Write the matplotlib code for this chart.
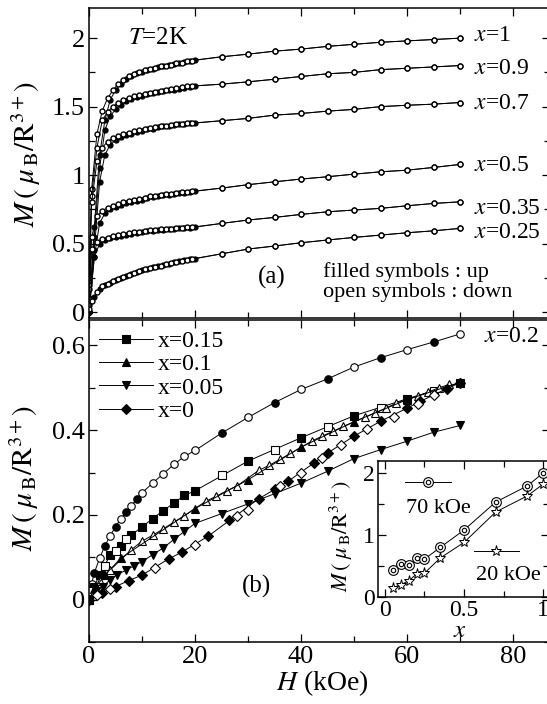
import numpy as np
import matplotlib
matplotlib.use('Agg')
import matplotlib.pyplot as plt

plt.rcParams['font.family'] = ['Liberation Serif', 'DejaVu Serif']
plt.rcParams['mathtext.fontset'] = 'stix'

# ---- panel (a): M(H) at T=2K, up sweep (filled) and down sweep (open)
H_up = [0, 1, 2, 3, 4, 5, 6, 7, 8, 9, 10, 11, 12, 13, 14, 15, 16, 17, 18, 19, 20,
        25, 30, 35, 40, 45, 50, 55, 60, 65, 70]
H_dn = [0, 0.5, 1.5, 2.5, 3.5, 4.5, 5.5, 6.5, 7.5, 8.5, 9.5, 10.5, 11.5, 12.5,
        13.5, 14.5, 15.5, 16.5, 17.5, 18.5, 19.5]

comps_a = ['1', '0.9', '0.7', '0.5', '0.35', '0.25']
M_up = {
    '1': [0, 0.62, 1.15, 1.40, 1.55, 1.62, 1.665, 1.70, 1.725, 1.745, 1.755, 1.768, 1.778,
          1.788, 1.797, 1.804, 1.811, 1.818, 1.825, 1.832, 1.84,
          1.864, 1.883, 1.905, 1.92, 1.94, 1.955, 1.97, 1.98, 1.99, 2.0],
    '0.9': [0, 0.55, 1.05, 1.33, 1.43, 1.48, 1.515, 1.54, 1.555, 1.568, 1.58, 1.59, 1.598,
            1.605, 1.612, 1.618, 1.624, 1.63, 1.637, 1.644, 1.652,
            1.664, 1.681, 1.70, 1.72, 1.74, 1.75, 1.77, 1.78, 1.79, 1.80],
    '0.7': [0, 0.45, 0.95, 1.15, 1.22, 1.255, 1.275, 1.29, 1.30, 1.315, 1.325, 1.335, 1.34,
            1.35, 1.355, 1.36, 1.365, 1.37, 1.374, 1.377, 1.38,
            1.397, 1.414, 1.438, 1.45, 1.467, 1.48, 1.50, 1.51, 1.518, 1.53],
    '0.5': [0, 0.40, 0.65, 0.72, 0.75, 0.77, 0.785, 0.795, 0.805, 0.812, 0.82, 0.83, 0.84,
            0.848, 0.853, 0.858, 0.862, 0.868, 0.872, 0.877, 0.882,
            0.905, 0.93, 0.951, 0.971, 0.988, 1.007, 1.024, 1.036, 1.056, 1.078],
    '0.35': [0, 0.40, 0.50, 0.525, 0.538, 0.548, 0.557, 0.564, 0.57, 0.578, 0.584, 0.589, 0.594,
             0.598, 0.601, 0.604, 0.607, 0.611, 0.614, 0.617, 0.62,
             0.647, 0.672, 0.691, 0.713, 0.732, 0.745, 0.757, 0.776, 0.793, 0.805],
    '0.25': [0, 0.11, 0.17, 0.20, 0.215, 0.232, 0.246, 0.26, 0.275, 0.29, 0.305, 0.316, 0.326,
             0.335, 0.343, 0.352, 0.362, 0.37, 0.378, 0.385, 0.39,
             0.425, 0.46, 0.482, 0.506, 0.526, 0.545, 0.562, 0.579, 0.593, 0.611],
}
M_dn = {
    '1': [0.22, 0.9, 1.3, 1.47, 1.56, 1.62, 1.665, 1.695, 1.72, 1.74, 1.752, 1.765, 1.775,
          1.785, 1.795, 1.80, 1.807, 1.815, 1.822, 1.83, 1.836],
    '0.9': [0.2, 0.85, 1.2, 1.40, 1.46, 1.50, 1.53, 1.55, 1.562, 1.575, 1.585, 1.594, 1.602,
            1.609, 1.615, 1.621, 1.627, 1.634, 1.64, 1.648, 1.65],
    '0.7': [0.17, 0.8, 1.1, 1.2, 1.245, 1.27, 1.285, 1.297, 1.31, 1.32, 1.33, 1.338, 1.345,
            1.352, 1.358, 1.362, 1.367, 1.372, 1.376, 1.379, 1.38],
    '0.5': [0.1, 0.55, 0.7, 0.74, 0.762, 0.778, 0.79, 0.8, 0.808, 0.816, 0.825, 0.835, 0.844,
            0.85, 0.855, 0.86, 0.865, 0.87, 0.875, 0.88, 0.882],
    '0.35': [0.05, 0.46, 0.515, 0.532, 0.543, 0.552, 0.56, 0.567, 0.574, 0.581, 0.586, 0.591,
             0.596, 0.6, 0.603, 0.606, 0.609, 0.612, 0.615, 0.618, 0.62],
    '0.25': [0.02, 0.08, 0.145, 0.188, 0.208, 0.224, 0.239, 0.253, 0.268, 0.283, 0.298, 0.311,
             0.321, 0.331, 0.339, 0.348, 0.357, 0.366, 0.374, 0.382, 0.388],
}
label_y_a = [2.02, 1.78, 1.525, 1.073, 0.759, 0.584]

# ---- panel (b): low x
H_02_f = [0, 1, 3, 5, 7, 9, 25, 35, 45, 55, 65]
M_02_f = [0, 0.063, 0.127, 0.172, 0.206, 0.237, 0.393, 0.465, 0.521, 0.571, 0.608]
H_02_o = [0.5, 2, 4, 6, 8, 10, 12, 14, 16, 18, 20, 30, 40, 50, 60, 70]
M_02_o = [0.038, 0.098, 0.151, 0.191, 0.222, 0.252, 0.275, 0.297, 0.319, 0.338, 0.352,
          0.43, 0.496, 0.549, 0.59, 0.627]

H_015_f = [0, 1, 2, 4, 6, 8, 10, 12, 14, 16, 18, 20, 30, 40, 50, 60, 70]
M_015_f = [0, 0.031, 0.059, 0.105, 0.127, 0.152, 0.172, 0.191, 0.21, 0.228, 0.246, 0.257,
           0.327, 0.382, 0.434, 0.474, 0.512]
H_015_o = [0.5, 3, 5, 7, 25, 35, 45, 55, 65]
M_015_o = [0.02, 0.079, 0.115, 0.142, 0.293, 0.354, 0.407, 0.453, 0.492]

H_01_f = [0, 1, 3, 6, 20, 30, 40, 50, 60, 70]
M_01_f = [0, 0.025, 0.058, 0.098, 0.215, 0.283, 0.36, 0.42, 0.472, 0.513]
H_01_o = [2, 4, 8, 10, 12, 14, 16, 18, 22, 24, 26, 28, 32, 34, 36, 38, 42, 44, 46, 48,
          52, 54, 56, 58, 62, 64, 66, 68]
M_01_o = [0.043, 0.07, 0.118, 0.138, 0.152, 0.167, 0.183, 0.198, 0.232, 0.244, 0.257, 0.269,
          0.305, 0.317, 0.331, 0.345, 0.374, 0.386, 0.397, 0.409, 0.43, 0.441, 0.452, 0.464,
          0.48, 0.49, 0.5, 0.508]

H_005 = [0, 1.3, 2.6, 4, 5.3, 6.9, 8.5, 10, 12, 14, 16, 18, 20, 25, 30, 35, 40, 45, 50,
         55, 60, 65, 70]
M_005 = [0, 0.02, 0.031, 0.047, 0.059, 0.069, 0.08, 0.09, 0.106, 0.122, 0.142, 0.161, 0.18,
         0.203, 0.226, 0.25, 0.275, 0.303, 0.333, 0.354, 0.374, 0.395, 0.411]

H_0_f = [0, 2.5, 5, 7.5, 10, 15, 17.5, 22.5, 26.5, 32, 35, 37.5, 42.5, 45, 50, 55, 60,
         62.5, 67.5, 70]
M_0_f = [0, 0.016, 0.031, 0.045, 0.058, 0.096, 0.112, 0.15, 0.187, 0.238, 0.26, 0.279, 0.323,
         0.346, 0.386, 0.421, 0.452, 0.468, 0.498, 0.512]
H_0_o = [1.5, 4, 12.5, 20, 28, 30, 36, 40, 44, 47.5, 52.5, 57.5, 62, 65]
M_0_o = [0.01, 0.024, 0.075, 0.13, 0.198, 0.212, 0.268, 0.30, 0.335, 0.366, 0.403, 0.431,
         0.462, 0.484]

# ---- inset: M vs x at 70 kOe and 20 kOe
x_ins = [0.05, 0.1, 0.15, 0.2, 0.25, 0.35, 0.5, 0.7, 0.9, 1.0]
M70 = [0.43, 0.53, 0.52, 0.63, 0.61, 0.80, 1.08, 1.53, 1.79, 2.0]
M20 = [0.15, 0.2, 0.26, 0.37, 0.385, 0.63, 0.88, 1.37, 1.63, 1.82]

ylab = r'$M\,(\;\mu_{\,\rm B}/{\rm R}^{3+})$'

fig = plt.figure(figsize=(5.47, 7.04), dpi=100)
ax1 = fig.add_axes([0.1627, 0.548, 0.8422, 0.4406])
ax2 = fig.add_axes([0.1627, 0.088, 0.8422, 0.4575])
ins = fig.add_axes([0.691, 0.152, 0.313, 0.193])

lw = 0.7
for c, ly in zip(comps_a, label_y_a):
    ax1.plot(H_up, M_up[c], '-o', color='k', lw=lw, ms=3.6, mfc='k', mec='k', mew=0.9)
    hd = H_dn + H_up[21:]
    md = M_dn[c] + M_up[c][21:]
    ax1.plot(hd, md, '-o', color='k', lw=lw, ms=3.6, mfc='white', mec='k', mew=1.0)
    ax1.text(72.6, ly, r'$x$=' + c, fontsize=17, va='center', ha='left')

ax1.text(7.4, 2.0, r'$T$=2K', fontsize=18, va='center')
ax1.text(34.5, 0.255, '(a)', fontsize=18, va='center', ha='center')
ax1.text(44.2, 0.29, 'filled symbols : up', fontsize=16, va='center')
ax1.text(44.2, 0.145, 'open symbols : down', fontsize=16, va='center')

ax1.set_xlim(0, 86.9)
ax1.set_ylim(-0.045, 2.22)
ax1.set_yticks([0, 0.5, 1, 1.5, 2])
ax1.set_yticklabels(['0', '0.5', '1', '1.5', '2'])
ax1.set_yticks([0.25, 0.75, 1.25, 1.75], minor=True)
ax1.set_xticks([0, 20, 40, 60, 80])
ax1.set_xticks([10, 30, 50, 70], minor=True)
ax1.tick_params(labelbottom=False)
ax1.set_ylabel(ylab, fontsize=21)
ax1.yaxis.set_label_coords(-0.1, 0.53)

ms_b = 5.4
ax2.plot(H_02_f, M_02_f, 'o', color='k', ms=ms_b, mfc='k', mew=0.8)
ax2.plot(sorted(H_02_f + H_02_o), [m for _, m in sorted(zip(H_02_f + H_02_o, M_02_f + M_02_o))],
         '-', color='k', lw=lw, zorder=1)
ax2.plot(H_02_o, M_02_o, 'o', color='k', ms=ms_b, mfc='white', mew=0.8)

ax2.plot(H_015_f, M_015_f, '-s', color='k', lw=lw, ms=ms_b, mfc='k', mew=0.8, label='x=0.15')
ax2.plot(H_015_o, M_015_o, 's', color='k', ms=ms_b, mfc='white', mew=0.8)

ax2.plot(H_01_o, M_01_o, '-^', color='k', lw=lw, ms=ms_b, mfc='white', mew=0.8)
ax2.plot(H_01_f, M_01_f, '-^', color='k', lw=lw, ms=ms_b, mfc='k', mew=0.8, label='x=0.1')

ax2.plot(H_005, M_005, '-v', color='k', lw=lw, ms=ms_b, mfc='k', mew=0.8, label='x=0.05')

ax2.plot(H_0_f, M_0_f, '-D', color='k', lw=lw, ms=ms_b - 0.6, mfc='k', mew=0.8, label='x=0')
ax2.plot(H_0_o, M_0_o, 'D', color='k', ms=ms_b - 0.6, mfc='white', mew=0.8)

ax2.text(74.5, 0.62, r'$x$=0.2', fontsize=17, va='center', ha='left')
ax2.text(31.6, 0.031, '(b)', fontsize=18, va='center', ha='center')

leg = ax2.legend(loc='upper left', bbox_to_anchor=(-0.01, 1.012), frameon=False, fontsize=17,
                 handlelength=2.3, handletextpad=0.2, labelspacing=0.08, borderaxespad=0.2)

ax2.set_xlim(0, 86.9)
ax2.set_ylim(-0.1, 0.66)
ax2.set_yticks([0, 0.2, 0.4, 0.6])
ax2.set_yticklabels(['0', '0.2', '0.4', '0.6'])
ax2.set_yticks([-0.1, 0.1, 0.3, 0.5], minor=True)
ax2.set_xticks([0, 20, 40, 60, 80])
ax2.set_xticks([10, 30, 50, 70], minor=True)
ax2.set_ylabel(ylab, fontsize=21)
ax2.yaxis.set_label_coords(-0.105, 0.51)
ax2.set_xlabel(r'$H$ (kOe)', fontsize=20)
ax2.xaxis.set_label_coords(0.506, -0.082)

ins.plot(x_ins, M70, '-o', color='k', lw=lw, ms=7, mfc='white', mew=0.8)
ins.plot(x_ins, M70, 'o', color='k', ms=3.2, mfc='white', mew=0.8)
ins.plot(x_ins, M20, '-*', color='k', lw=lw, ms=8, mfc='white', mew=0.7)
# legend keys of the inset
ins.plot([0.16, 0.426], [0.846, 0.846], '-', color='k', lw=lw, transform=ins.transAxes)
ins.plot([0.29], [0.846], 'o', color='k', ms=7, mfc='white', mew=0.8, transform=ins.transAxes)
ins.plot([0.29], [0.846], 'o', color='k', ms=3.2, mfc='white', mew=0.8, transform=ins.transAxes)
ins.text(0.355, 0.654, '70 kOe', fontsize=16, ha='center', va='center', transform=ins.transAxes)
ins.plot([0.562, 0.822], [0.338, 0.338], '-', color='k', lw=lw, transform=ins.transAxes)
ins.plot([0.69], [0.338], '*', color='k', ms=8, mfc='white', mew=0.7, transform=ins.transAxes)
ins.text(0.76, 0.16, '20 kOe', fontsize=16, ha='center', va='center', transform=ins.transAxes)

ins.set_xlim(-0.044, 1.038)
ins.set_ylim(0, 2.19)
ins.set_xticks([0, 0.5, 1])
ins.set_xticklabels(['0', '0.5', '1'])
ins.set_xticks([0.25, 0.75], minor=True)
ins.set_yticks([0, 1, 2])
ins.set_yticks([0.5, 1.5], minor=True)
ins.set_ylabel(ylab, fontsize=16)
ins.yaxis.set_label_coords(-0.135, 0.45)
ins.set_xlabel(r'$x$', fontsize=18)
ins.xaxis.set_label_coords(0.48, -0.17)
ins.set_facecolor('white')

for a in (ax1, ax2, ins):
    for s in a.spines.values():
        s.set_linewidth(1.1)
    a.tick_params(which='both', direction='in', top=True, right=True, width=0.9, labelsize=19, pad=3)
    a.tick_params(which='major', length=6)
    a.tick_params(which='minor', length=4)
ins.tick_params(labelsize=17, pad=2)

fig.savefig('out.png', dpi=100)
